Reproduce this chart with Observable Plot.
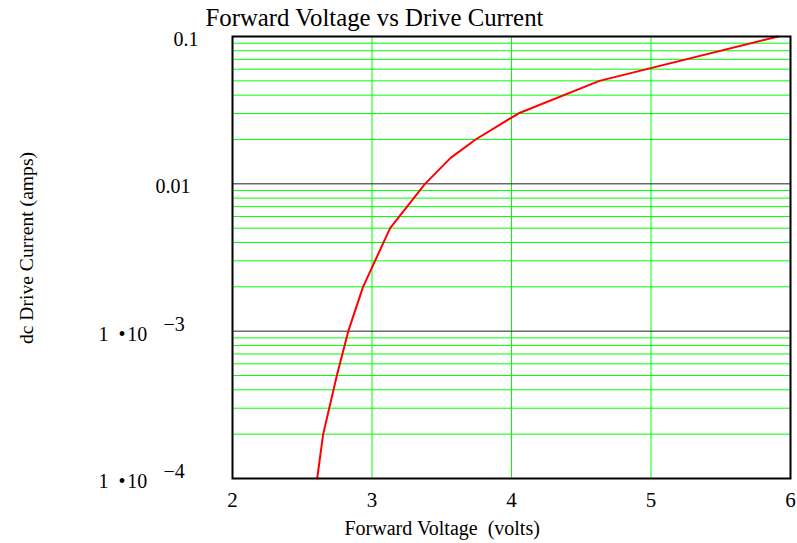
<!DOCTYPE html>
<html>
<head>
<meta charset="utf-8">
<script src="https://cdn.jsdelivr.net/npm/d3@7"></script>
<script src="https://cdn.jsdelivr.net/npm/@observablehq/plot@0.6"></script>
<style>
  html, body { margin: 0; padding: 0; background: #fff; }
  #chart svg { display: block; }
</style>
</head>
<body>
<div id="chart"></div>
<script>
// Data
const voltage = [2.607, 2.65, 2.748, 2.83, 2.936, 3.13, 3.38, 3.564, 3.743, 4.048, 4.63, 5.91];
const current = [0.0001, 0.0002, 0.0005, 0.001, 0.002, 0.005, 0.01, 0.015, 0.02, 0.03, 0.05, 0.1];

const xTicks = [2, 3, 4, 5, 6];
const yTickValues = [0.1, 0.01, 0.001, 0.0001];
const yTickPlain = ["0.1", "0.01", "", ""];
const yTickMantissa = ["", "", "1\u00a0\u00a0\u2022\u200a10", "1\u00a0\u00a0\u2022\u200a10"];
const yTickExponent = ["", "", "\u22123", "\u22124"];
const decades = [0.0001, 0.001, 0.01];
const multipliers = [2, 3, 4, 5, 6, 7, 8, 9];
const majorGrid = [0.01, 0.001];
const verticalGrid = [3, 4, 5];

const title = "Forward Voltage vs Drive Current";
const xLabel = "Forward Voltage\u00a0\u00a0(volts)";
const yLabel = "dc Drive Current (amps)";

const data = voltage.map((v, i) => ({v, i: current[i]}));
const minorGrid = decades.flatMap(d => multipliers.map(m => m * d));
const ticks = yTickValues.map((y, k) => ({y, plain: yTickPlain[k], mant: yTickMantissa[k], exp: yTickExponent[k]}));

const font = "'Liberation Serif', 'Times New Roman', serif";

const chart = Plot.plot({
  width: 797,
  height: 543,
  marginLeft: 232,
  marginRight: 7,
  marginTop: 36,
  marginBottom: 65,
  style: {fontFamily: font, fontSize: "21px", color: "#000", background: "#fff"},
  x: {domain: [2, 6], ticks: xTicks, tickSize: 0, tickPadding: 14, label: null, tickFormat: d => String(d)},
  y: {type: "log", domain: [0.0001, 0.1], axis: null},
  marks: [
    Plot.ruleY(minorGrid, {stroke: "#00ff00", strokeWidth: 1}),
    Plot.ruleX(verticalGrid, {stroke: "#00ff00", strokeWidth: 1}),
    Plot.ruleY(majorGrid, {stroke: "#222", strokeWidth: 1}),
    Plot.line(data, {x: "v", y: "i", stroke: "#ff0000", strokeWidth: 2}),
    Plot.frame({stroke: "#000", strokeWidth: 2}),
    // y tick labels
    Plot.text([ticks[0]], {x: 2, y: "y", text: "plain", textAnchor: "start", dx: -59, dy: 3, fontSize: 20}),
    Plot.text([ticks[1]], {x: 2, y: "y", text: "plain", textAnchor: "start", dx: -77, dy: 3, fontSize: 20}),
    Plot.text(ticks, {x: 2, y: "y", text: "mant", textAnchor: "start", dx: -134, dy: 3, fontSize: 20}),
    Plot.text(ticks, {x: 2, y: "y", text: "exp", textAnchor: "start", dx: -69, dy: -7, fontSize: 20}),
    // title and axis labels
    Plot.text([title], {frameAnchor: "top-left", textAnchor: "start", lineAnchor: "middle", dx: -27, dy: -18, fontSize: 24.8}),
    Plot.text([xLabel], {frameAnchor: "bottom", textAnchor: "start", lineAnchor: "middle", dx: -167, dy: 50, fontSize: 20}),
    Plot.text([yLabel], {frameAnchor: "left", textAnchor: "middle", lineAnchor: "middle", rotate: -90, dx: -206, dy: -9.5, fontSize: 19.6})
  ]
});

document.getElementById("chart").appendChild(chart);
</script>
</body>
</html>
